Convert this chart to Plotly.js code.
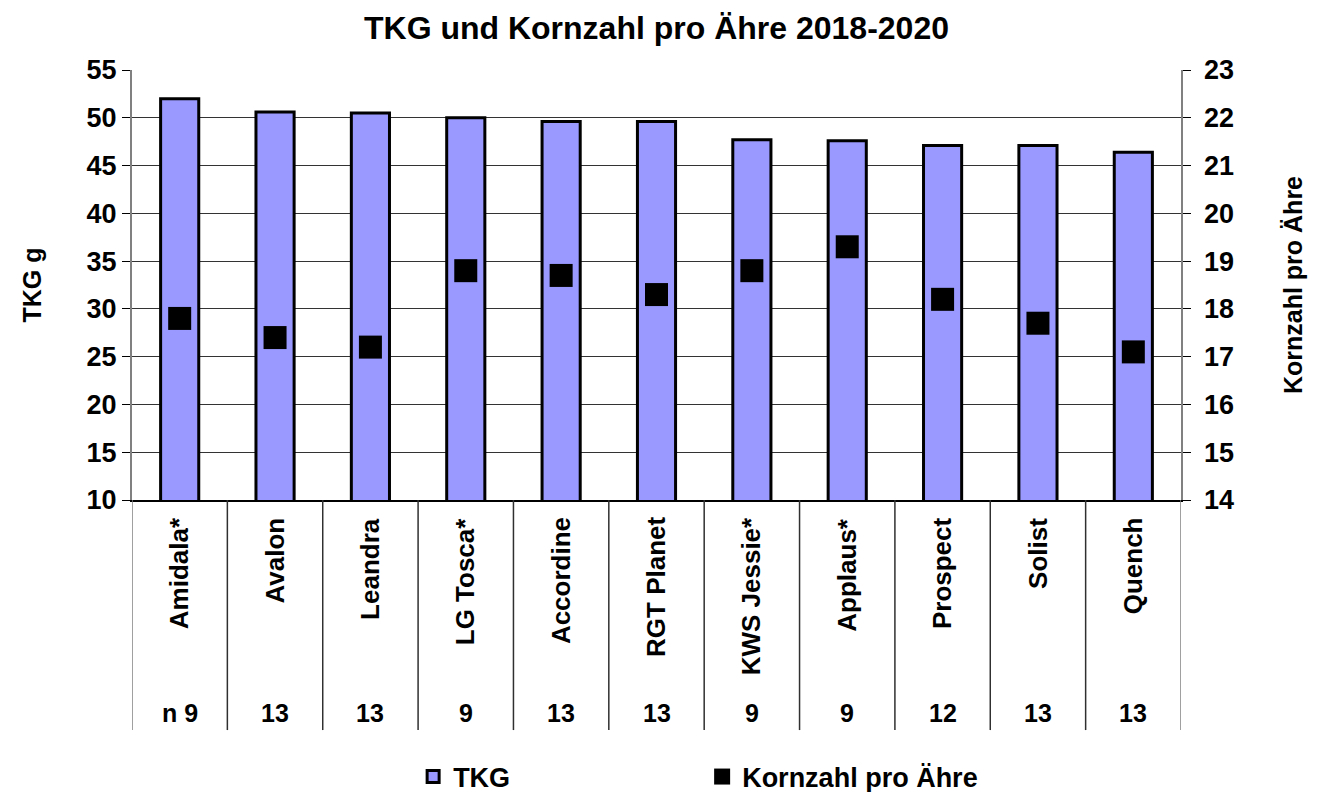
<!DOCTYPE html>
<html>
<head>
<meta charset="utf-8">
<script src="https://cdn.plot.ly/plotly-3.0.1.min.js"></script>
<style>
  html, body { margin: 0; padding: 0; background: #ffffff; }
  #chart { width: 1325px; height: 792px; }
</style>
</head>
<body>
<div id="chart"></div>
<script>
// ---- data ----
const categories = ["Amidala*", "Avalon", "Leandra", "LG Tosca*", "Accordine", "RGT Planet", "KWS Jessie*", "Applaus*", "Prospect", "Solist", "Quench"];
const tkgValues = [52.0, 50.6, 50.5, 50.0, 49.6, 49.6, 47.7, 47.6, 47.1, 47.1, 46.4];
const kornValues = [17.8, 17.4, 17.2, 18.8, 18.7, 18.3, 18.8, 19.3, 18.2, 17.7, 17.1];
const nLabels = ["n 9", "13", "13", "9", "13", "13", "9", "9", "12", "13", "13"];
const leftTicks = [10, 15, 20, 25, 30, 35, 40, 45, 50, 55];
const rightTicks = [14, 15, 16, 17, 18, 19, 20, 21, 22, 23];

const FONT = "Liberation Sans, Arial, sans-serif";
const PAD = "\u00A0";

const traces = [
  {
    type: "bar",
    name: "TKG",
    x: categories,
    y: tkgValues,
    marker: { color: "#9999FF", line: { color: "#000000", width: 3 } },
    yaxis: "y"
  },
  {
    type: "scatter",
    mode: "markers",
    name: "Kornzahl pro Ähre",
    x: categories,
    y: kornValues,
    marker: { symbol: "square", size: 23, color: "#000000" },
    yaxis: "y2"
  }
];

// category separators and labels below the plot
const shapes = [];
for (let i = 0; i <= categories.length; i++) {
  shapes.push({
    type: "line", xref: "x", yref: "paper",
    x0: i - 0.5, x1: i - 0.5, y0: 0, y1: -0.535,
    line: { color: (i === 0 || i === categories.length) ? "#808080" : "#303030", width: 1.5 }
  });
}
const annotations = [];
categories.forEach((c, i) => {
  annotations.push({
    xref: "x", yref: "paper", x: c, y: -0.036,
    text: c, textangle: -90, showarrow: false,
    xanchor: "center", yanchor: "top",
    font: { family: FONT, size: 26, color: "#000" }
  });
  annotations.push({
    xref: "x", yref: "paper", x: c, y: -0.495,
    text: nLabels[i], showarrow: false,
    xanchor: "center", yanchor: "middle",
    font: { family: FONT, size: 25, color: "#000" }
  });
});

const layout = {
  width: 1325, height: 792,
  paper_bgcolor: "#ffffff", plot_bgcolor: "#ffffff",
  margin: { l: 132, r: 144, t: 70, b: 292, autoexpand: false },
  font: { family: FONT, size: 24, color: "#000", weight: "bold" },
  title: {
    text: "<b>TKG und Kornzahl pro Ähre 2018-2020</b>",
    font: { family: FONT, size: 32, color: "#000" },
    x: 0.5, xref: "paper", xanchor: "center",
    y: 1 - 28 / 792, yref: "container", yanchor: "middle"
  },
  bargap: 0.6,
  showlegend: true,
  legend: {
    orientation: "h",
    x: 0.268, xanchor: "left", xref: "paper",
    y: 1 - 777 / 792, yanchor: "middle", yref: "container",
    entrywidth: 244, entrywidthmode: "pixels",
    font: { family: FONT, size: 27, color: "#000", weight: "bold" },
    bgcolor: "rgba(0,0,0,0)"
  },
  xaxis: {
    type: "category",
    range: [-0.5, categories.length - 0.5],
    showticklabels: false,
    ticks: "",
    showgrid: false,
    showline: true, linecolor: "#000000", linewidth: 1.5,
    zeroline: false, fixedrange: true
  },
  yaxis: {
    range: [10, 55],
    tickvals: leftTicks,
    ticktext: leftTicks.map(String),
    ticks: "outside", ticklen: 8, tickcolor: "#000", tickwidth: 1,
    showline: true, linecolor: "#808080", linewidth: 2,
    showgrid: true, gridcolor: "#333333", gridwidth: 1,
    zeroline: false,
    tickfont: { family: FONT, size: 27, color: "#000", weight: "bold" },
    title: { text: "<b>TKG g</b>", standoff: 38, font: { family: FONT, size: 25, color: "#000" } },
    automargin: false, fixedrange: true
  },
  yaxis2: {
    overlaying: "y", side: "right", anchor: "x",
    range: [14, 23],
    tickvals: rightTicks,
    ticktext: rightTicks.map(v => PAD + String(v)),
    ticks: "outside", ticklen: 8, tickcolor: "#000", tickwidth: 1,
    showline: true, linecolor: "#808080", linewidth: 2,
    showgrid: false, zeroline: false,
    tickfont: { family: FONT, size: 27, color: "#000", weight: "bold" },
    title: { text: "<b>Kornzahl pro Ähre</b>", standoff: 52, font: { family: FONT, size: 25, color: "#000" } },
    automargin: false, fixedrange: true
  },
  shapes: shapes,
  annotations: annotations
};

Plotly.newPlot("chart", traces, layout, { displayModeBar: false, staticPlot: true });
</script>
</body>
</html>
